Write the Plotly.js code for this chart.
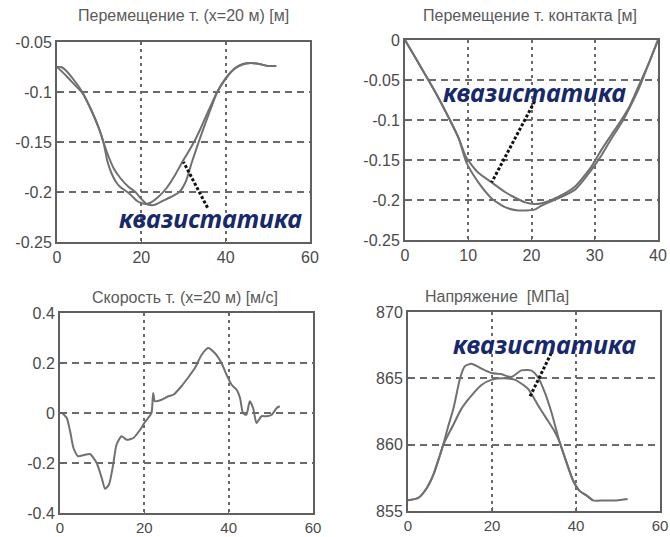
<!DOCTYPE html>
<html>
<head>
<meta charset="utf-8">
<script src="https://cdn.plot.ly/plotly-3.0.1.min.js"></script>
<style>
html,body{margin:0;padding:0;background:#fff;}
#chart{width:670px;height:537px;}
</style>
</head>
<body>
<div id="chart"></div>
<script>
// ---- Panel 1: Перемещение т. (x=20 м) [м]
const p1xA = [0, 2, 4, 6, 8, 10, 11, 12, 13, 14, 15, 16, 17, 18, 19, 20, 21, 22, 24, 26, 28, 29.7, 31, 32.5, 34, 36, 38, 40, 42, 44, 46, 48, 50, 52];
const p1yA = [-0.075, -0.083, -0.092, -0.101, -0.117, -0.137, -0.15, -0.17, -0.182, -0.19, -0.195, -0.198, -0.201, -0.205, -0.209, -0.211, -0.212, -0.211, -0.205, -0.196, -0.183, -0.17, -0.161, -0.15, -0.137, -0.118, -0.1, -0.087, -0.077, -0.0725, -0.071, -0.072, -0.074, -0.074];
const p1xB = [0, 1, 2, 4, 6, 8, 10, 11, 12, 13.4, 15, 17, 18.6, 20, 21.3, 23, 25, 27, 29, 30.5, 32, 33.6, 36, 38, 40, 42, 44, 46, 48, 50, 52];
const p1yB = [-0.075, -0.075, -0.078, -0.088, -0.1, -0.117, -0.137, -0.15, -0.162, -0.176, -0.186, -0.195, -0.2, -0.207, -0.212, -0.213, -0.209, -0.205, -0.2, -0.19, -0.17, -0.15, -0.122, -0.1, -0.086, -0.077, -0.072, -0.071, -0.072, -0.074, -0.074];

// ---- Panel 2: Перемещение т. контакта [м]
const p2xQ = [0, 2, 3.7, 5, 7.1, 8.5, 9.7, 11.6, 13.7, 15.8, 16.9, 19, 20.5, 21.6, 24.2, 26.9, 29.5, 31, 32.5, 34.2, 35.5, 36.8, 38.5, 40];
const p2yQ = [0, -0.027, -0.05, -0.068, -0.1, -0.123, -0.147, -0.166, -0.178, -0.19, -0.195, -0.203, -0.205, -0.204, -0.196, -0.183, -0.158, -0.138, -0.12, -0.1, -0.083, -0.06, -0.03, 0];
const p2xD = [0, 2, 3.7, 5, 7.1, 8.5, 9.7, 11.6, 13.7, 15.8, 17.9, 19, 20.5, 21.6, 24.2, 26.9, 29.5, 31, 32.5, 34.5, 35.8, 37, 38.5, 40];
const p2yD = [0, -0.027, -0.05, -0.068, -0.1, -0.123, -0.153, -0.178, -0.198, -0.209, -0.213, -0.213, -0.212, -0.207, -0.198, -0.187, -0.162, -0.145, -0.125, -0.1, -0.08, -0.06, -0.03, 0];

// ---- Panel 3: Скорость т. (x=20 м) [м/с]
const p3x = [0.5, 1.6, 2.4, 3.2, 4.3, 5.9, 7.1, 8.7, 9.9, 10.7, 11.6, 12.6, 13.4, 14.6, 15.8, 17.4, 19, 20, 20.9, 21.7, 22.1, 22.5, 24.1, 25.7, 26.9, 28.8, 30.3, 32, 33.6, 35.1, 36.7, 38.3, 39.5, 40.7, 41.9, 42.7, 43.4, 44.2, 45, 45.8, 46.6, 47.8, 49, 50.2, 51.4, 52.1];
const p3y = [0, -0.02, -0.073, -0.14, -0.173, -0.167, -0.164, -0.2, -0.26, -0.303, -0.287, -0.207, -0.127, -0.093, -0.107, -0.1, -0.067, -0.04, -0.02, 0, 0.08, 0.047, 0.053, 0.067, 0.073, 0.107, 0.14, 0.18, 0.233, 0.26, 0.24, 0.2, 0.153, 0.113, 0.093, 0.06, 0, -0.007, 0.047, 0.02, -0.04, -0.013, -0.013, -0.007, 0.02, 0.027];

// ---- Panel 4: Напряжение [МПа]
const p4xD = [0, 2.5, 4.4, 6, 7.6, 8.4, 9.5, 10.8, 12.4, 13.5, 15.1, 17.1, 19.9, 22.3, 24.6, 27, 29.3, 30.9, 32.5, 34.1, 36.1, 37.7, 39.3, 40.9, 42.4, 44, 46.8, 49.6, 52.3];
const p4yD = [855.8, 856.0, 856.7, 857.7, 859.2, 860, 861.3, 862.7, 865, 865.9, 866.1, 865.8, 865.4, 865.3, 865.1, 865.6, 865.6, 865.1, 864, 862.5, 860.2, 858.7, 857.3, 856.5, 856.2, 855.8, 855.8, 855.8, 855.9];
const p4xQ = [0, 2.5, 4.4, 6, 7.6, 8.4, 10.8, 12.7, 15.1, 17.5, 20, 23, 25.4, 28.6, 30.9, 32.9, 34.9, 36.1, 37.7, 39.3, 40.9, 42.4, 44];
const p4yQ = [855.8, 856, 856.7, 857.7, 859.2, 860, 861.5, 862.7, 863.7, 864.5, 864.9, 865, 864.9, 864.2, 863, 862, 861, 860.2, 858.7, 857.3, 856.5, 856.2, 855.8];

// ---- Titles and tick labels
const titles = ['Перемещение т. (x=20 м) [м]', 'Перемещение т. контакта [м]', 'Скорость т. (x=20 м) [м/с]', 'Напряжение  [МПа]'];
const noteText = 'квазистатика';
const x60Ticks = [0, 20, 40, 60];
const x40Ticks = [0, 10, 20, 30, 40];
const y1Ticks = [-0.25, -0.2, -0.15, -0.1, -0.05];
const y1Text = ['-0.25', '-0.2', '-0.15', '-0.1', '-0.05'];
const y2Ticks = [-0.25, -0.2, -0.15, -0.1, -0.05, 0];
const y2Text = ['-0.25', '-0.2', '-0.15', '-0.1', '-0.05', '0'];
const y3Ticks = [-0.4, -0.2, 0, 0.2, 0.4];
const y3Text = ['-0.4', '-0.2', '0', '0.2', '0.4'];
const y4Ticks = [855, 860, 865, 870];
const y4Text = ['855', '860', '865', '870'];

const W = 670, H = 537;
const lineStyle = {color: '#707070', width: 2, shape: 'spline', smoothing: 0.6};
function tr(x, y, ax) {
  return {x: x, y: y, type: 'scatter', mode: 'lines', line: lineStyle, xaxis: 'x' + ax, yaxis: 'y' + ax, hoverinfo: 'skip'};
}
const data = [
  tr(p1xA, p1yA, ''), tr(p1xB, p1yB, ''),
  tr(p2xQ, p2yQ, '2'), tr(p2xD, p2yD, '2'),
  tr(p3x, p3y, '3'),
  tr(p4xD, p4yD, '4'), tr(p4xQ, p4yQ, '4')
];

const tickFont = {family: 'Liberation Sans, Arial, sans-serif', size: 16, color: '#4a4a4a'};
const tickFontLow = {family: 'Liberation Sans, Arial, sans-serif', size: 15, color: '#4a4a4a'};
const gridCol = '#6a6a6a';
function xa(l, r, range, ticks, anchor, font) {
  return {domain: [l / W, r / W], range: range, tickvals: ticks, ticktext: ticks.map(String), anchor: anchor,
    showline: true, mirror: true, linecolor: '#606060', linewidth: 2, showgrid: true, gridcolor: gridCol,
    gridwidth: 2, griddash: '3px,4px', zeroline: false, ticks: 'inside', ticklen: 4, tickcolor: '#606060',
    tickfont: font || tickFont, fixedrange: true};
}
function ya(t, b, range, ticks, text, anchor) {
  return {domain: [1 - b / H, 1 - t / H], range: range, tickvals: ticks, ticktext: text, anchor: anchor,
    showline: true, mirror: true, linecolor: '#606060', linewidth: 2, showgrid: true, gridcolor: gridCol,
    gridwidth: 2, griddash: '7px,5px', zeroline: false, ticks: 'inside', ticklen: 4, tickcolor: '#606060',
    tickfont: tickFont, fixedrange: true};
}
const titleFont = {family: 'Liberation Sans, Arial, sans-serif', size: 16, color: '#5a5a5a'};
const noteFont = {family: 'Noto Sans, Open Sans, sans-serif', size: 25, color: '#17296b', weight: 'bold', style: 'italic'};
function ttl(text, xpx, ypx) {
  return {text: text, xref: 'paper', yref: 'paper', x: xpx / W, y: 1 - ypx / H, showarrow: false, font: titleFont, xanchor: 'center', yanchor: 'middle'};
}
function note(xr, yr, x, y) {
  return {text: noteText, xref: xr, yref: yr, x: x, y: y, showarrow: false, font: noteFont, xanchor: 'center', yanchor: 'middle'};
}
function pointer(xr, yr, x0, y0, x1, y1) {
  return {type: 'line', xref: xr, yref: yr, x0: x0, y0: y0, x1: x1, y1: y1, line: {color: '#111', width: 3, dash: '3px,2px'}};
}
const layout = {
  width: W, height: H, margin: {l: 0, r: 0, t: 0, b: 0},
  paper_bgcolor: '#fff', plot_bgcolor: '#fff', showlegend: false,
  xaxis: xa(57, 310, [0, 60], x60Ticks, 'y'),
  yaxis: ya(42, 242, [-0.25, -0.05], y1Ticks, y1Text, 'x'),
  xaxis2: xa(405, 658, [0, 40], x40Ticks, 'y2'),
  yaxis2: ya(40, 240, [-0.25, 0], y2Ticks, y2Text, 'x2'),
  xaxis3: xa(60, 313, [0, 60], x60Ticks, 'y3', tickFontLow),
  yaxis3: ya(313, 513, [-0.4, 0.4], y3Ticks, y3Text, 'x3'),
  xaxis4: xa(408, 660, [0, 60], x60Ticks, 'y4', tickFontLow),
  yaxis4: ya(312, 511, [855, 870], y4Ticks, y4Text, 'x4'),
  annotations: [
    ttl(titles[0], 183, 16), ttl(titles[1], 530, 16), ttl(titles[2], 185, 297), ttl(titles[3], 497, 296),
    note('x', 'y', 36.3, -0.226),
    note('x2', 'y2', 20.5, -0.065),
    note('x4', 'y4', 32.5, 867.6)
  ],
  shapes: [
    pointer('x', 'y', 35.7, -0.2157, 30, -0.17),
    pointer('x2', 'y2', 20.5, -0.0767, 13.7, -0.178),
    pointer('x4', 'y4', 34.1, 866.9, 29, 863.6)
  ]
};
Plotly.newPlot('chart', data, layout, {staticPlot: true, displayModeBar: false});
</script>
</body>
</html>
